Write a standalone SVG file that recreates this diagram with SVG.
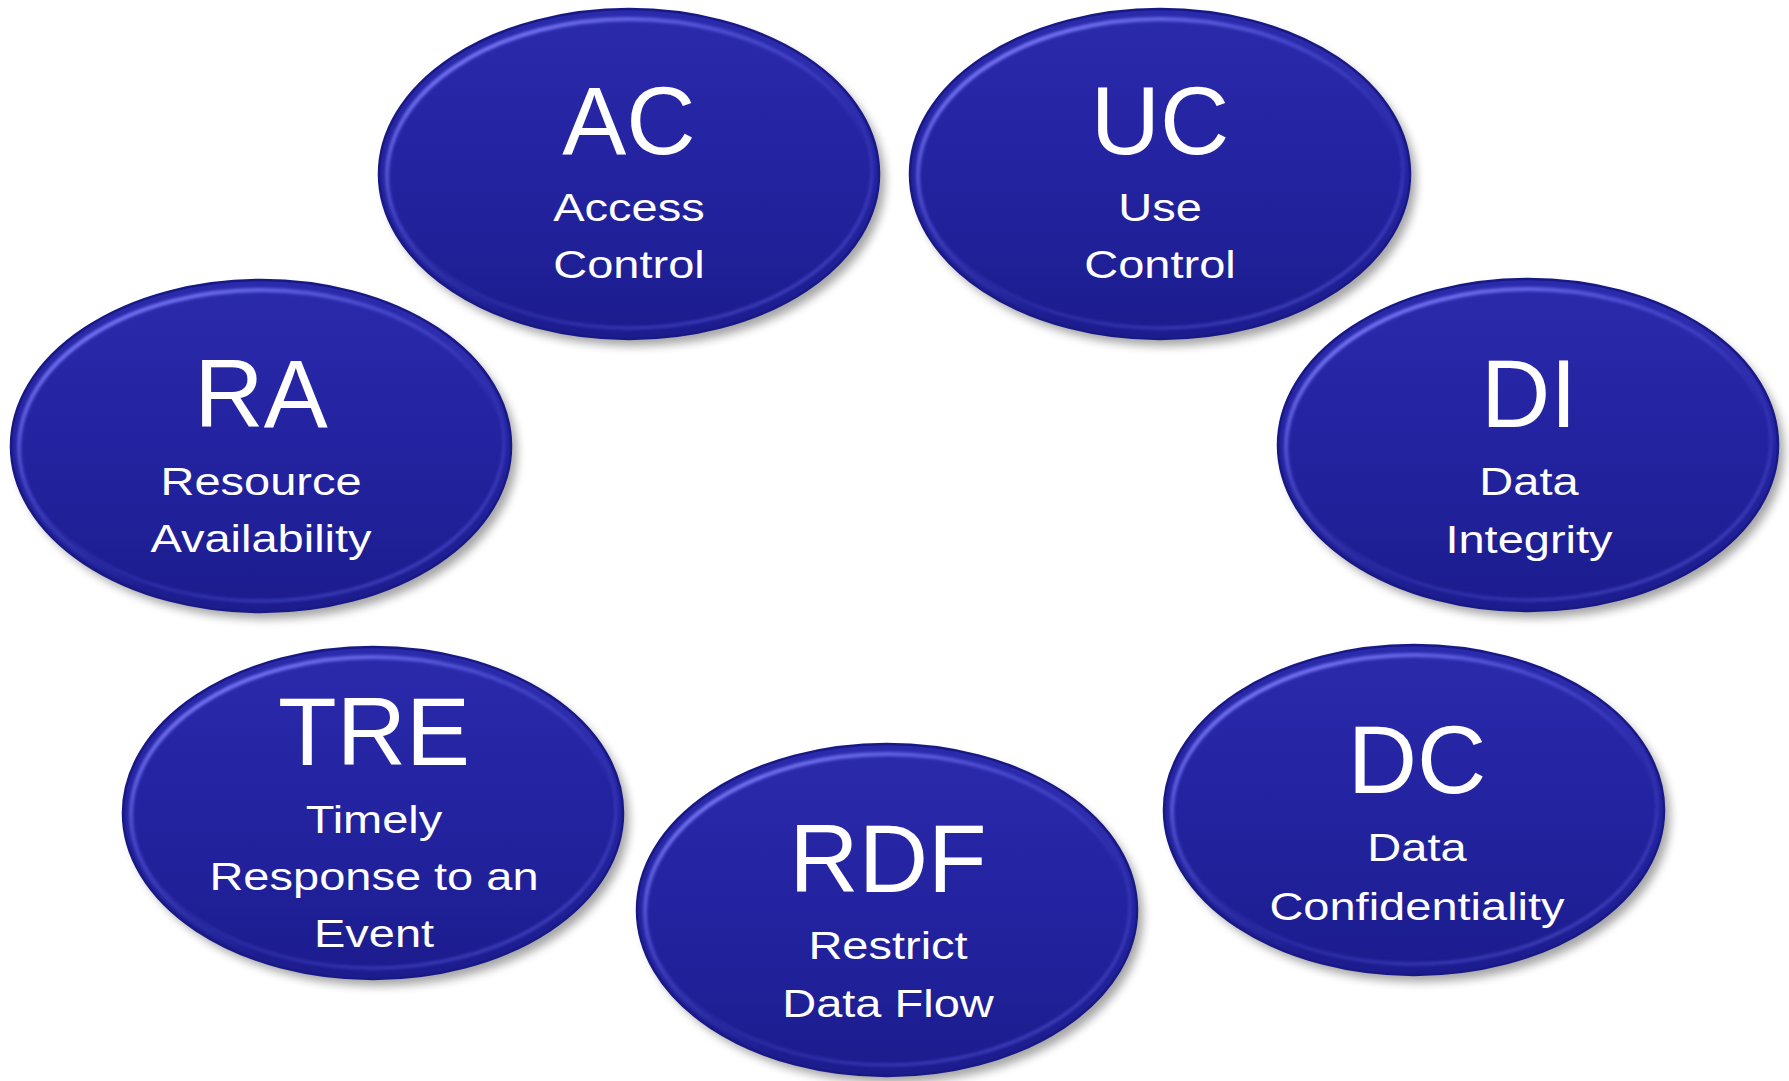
<svg xmlns="http://www.w3.org/2000/svg" width="1789" height="1081" viewBox="0 0 1789 1081">
  <defs>
    <linearGradient id="body" x1="0" y1="0" x2="0" y2="1">
      <stop offset="0" stop-color="#2a2aac"/>
      <stop offset="0.5" stop-color="#2323a0"/>
      <stop offset="1" stop-color="#1c1c8e"/>
    </linearGradient>
    <linearGradient id="hilite" x1="0.15" y1="0.1" x2="0.6" y2="0.7">
      <stop offset="0" stop-color="#8080ff" stop-opacity="0.95"/>
      <stop offset="0.45" stop-color="#6a6af0" stop-opacity="0.5"/>
      <stop offset="1" stop-color="#6a6af0" stop-opacity="0"/>
    </linearGradient>
    <linearGradient id="lowrim" x1="0.3" y1="0.4" x2="0.8" y2="1">
      <stop offset="0" stop-color="#4646c8" stop-opacity="0"/>
      <stop offset="0.6" stop-color="#4646c8" stop-opacity="0.5"/>
      <stop offset="1" stop-color="#5050d0" stop-opacity="0.8"/>
    </linearGradient>
    <filter id="shadow" x="-10%" y="-10%" width="120%" height="125%">
      <feGaussianBlur stdDeviation="5"/>
    </filter>
    <filter id="soft" x="-5%" y="-5%" width="110%" height="110%">
      <feGaussianBlur stdDeviation="1.6"/>
    </filter>
  </defs>
  <style>
    .sh { fill: #000000; opacity: 0.35; filter: url(#shadow); }
    .bd { fill: url(#body); stroke: #191985; stroke-width: 2.5; }
    .hl { fill: none; stroke: url(#hilite); stroke-width: 4; filter: url(#soft); }
    .lr { fill: none; stroke: url(#lowrim); stroke-width: 3; filter: url(#soft); }
    .t1 { font-family: "Liberation Sans", Arial, sans-serif; font-size: 96px; fill: #ffffff; text-anchor: middle; }
    .t2 { font-family: "Liberation Sans", Arial, sans-serif; font-size: 47px; fill: #ffffff; text-anchor: middle; }
  </style>
  <rect x="0" y="0" width="1789" height="1081" fill="#ffffff"/>
  <g id="connectors"/>

  <g id="node-AC">
    <ellipse class="sh" cx="635" cy="181" rx="250" ry="165"/>
    <ellipse class="bd" cx="629" cy="174" rx="250" ry="165"/>
    <ellipse class="hl" cx="629" cy="176" rx="242" ry="157"/>
    <ellipse class="lr" cx="629" cy="170" rx="243" ry="158"/>
    <text class="t1" x="629" y="154">AC</text>
    <text class="t2" transform="translate(629,221) scale(1,0.84)">Access</text>
    <text class="t2" transform="translate(629,278) scale(1,0.84)">Control</text>
  </g>

  <g id="node-UC">
    <ellipse class="sh" cx="1166" cy="181" rx="250" ry="165"/>
    <ellipse class="bd" cx="1160" cy="174" rx="250" ry="165"/>
    <ellipse class="hl" cx="1160" cy="176" rx="242" ry="157"/>
    <ellipse class="lr" cx="1160" cy="170" rx="243" ry="158"/>
    <text class="t1" x="1160" y="154">UC</text>
    <text class="t2" transform="translate(1160,221) scale(1,0.84)">Use</text>
    <text class="t2" transform="translate(1160,278) scale(1,0.84)">Control</text>
  </g>

  <g id="node-RA">
    <ellipse class="sh" cx="267" cy="453" rx="250" ry="166"/>
    <ellipse class="bd" cx="261" cy="446" rx="250" ry="166"/>
    <ellipse class="hl" cx="261" cy="448" rx="242" ry="158"/>
    <ellipse class="lr" cx="261" cy="442" rx="243" ry="159"/>
    <text class="t1" x="261" y="427">RA</text>
    <text class="t2" transform="translate(261,495) scale(1,0.84)">Resource</text>
    <text class="t2" transform="translate(261,552) scale(1,0.84)">Availability</text>
  </g>

  <g id="node-DI">
    <ellipse class="sh" cx="1534" cy="452" rx="250" ry="166"/>
    <ellipse class="bd" cx="1528" cy="445" rx="250" ry="166"/>
    <ellipse class="hl" cx="1528" cy="447" rx="242" ry="158"/>
    <ellipse class="lr" cx="1528" cy="441" rx="243" ry="159"/>
    <text class="t1" x="1529" y="427">DI</text>
    <text class="t2" transform="translate(1529,495) scale(1,0.84)">Data</text>
    <text class="t2" transform="translate(1529,553) scale(1,0.84)">Integrity</text>
  </g>

  <g id="node-TRE">
    <ellipse class="sh" cx="379" cy="820" rx="250" ry="166"/>
    <ellipse class="bd" cx="373" cy="813" rx="250" ry="166"/>
    <ellipse class="hl" cx="373" cy="815" rx="242" ry="158"/>
    <ellipse class="lr" cx="373" cy="809" rx="243" ry="159"/>
    <text class="t1" x="374" y="765">TRE</text>
    <text class="t2" transform="translate(374,833) scale(1,0.84)">Timely</text>
    <text class="t2" transform="translate(374,890) scale(1,0.84)">Response to an</text>
    <text class="t2" transform="translate(374,947) scale(1,0.84)">Event</text>
  </g>

  <g id="node-DC">
    <ellipse class="sh" cx="1420" cy="817" rx="250" ry="165"/>
    <ellipse class="bd" cx="1414" cy="810" rx="250" ry="165"/>
    <ellipse class="hl" cx="1414" cy="812" rx="242" ry="157"/>
    <ellipse class="lr" cx="1414" cy="806" rx="243" ry="158"/>
    <text class="t1" x="1417" y="793">DC</text>
    <text class="t2" transform="translate(1417,861) scale(1,0.84)">Data</text>
    <text class="t2" transform="translate(1417,920) scale(1,0.84)">Confidentiality</text>
  </g>

  <g id="node-RDF">
    <ellipse class="sh" cx="893" cy="917" rx="250" ry="166"/>
    <ellipse class="bd" cx="887" cy="910" rx="250" ry="166"/>
    <ellipse class="hl" cx="887" cy="912" rx="242" ry="158"/>
    <ellipse class="lr" cx="887" cy="906" rx="243" ry="159"/>
    <text class="t1" x="888" y="892">RDF</text>
    <text class="t2" transform="translate(888,959) scale(1,0.84)">Restrict</text>
    <text class="t2" transform="translate(888,1017) scale(1,0.84)">Data Flow</text>
  </g>
</svg>
